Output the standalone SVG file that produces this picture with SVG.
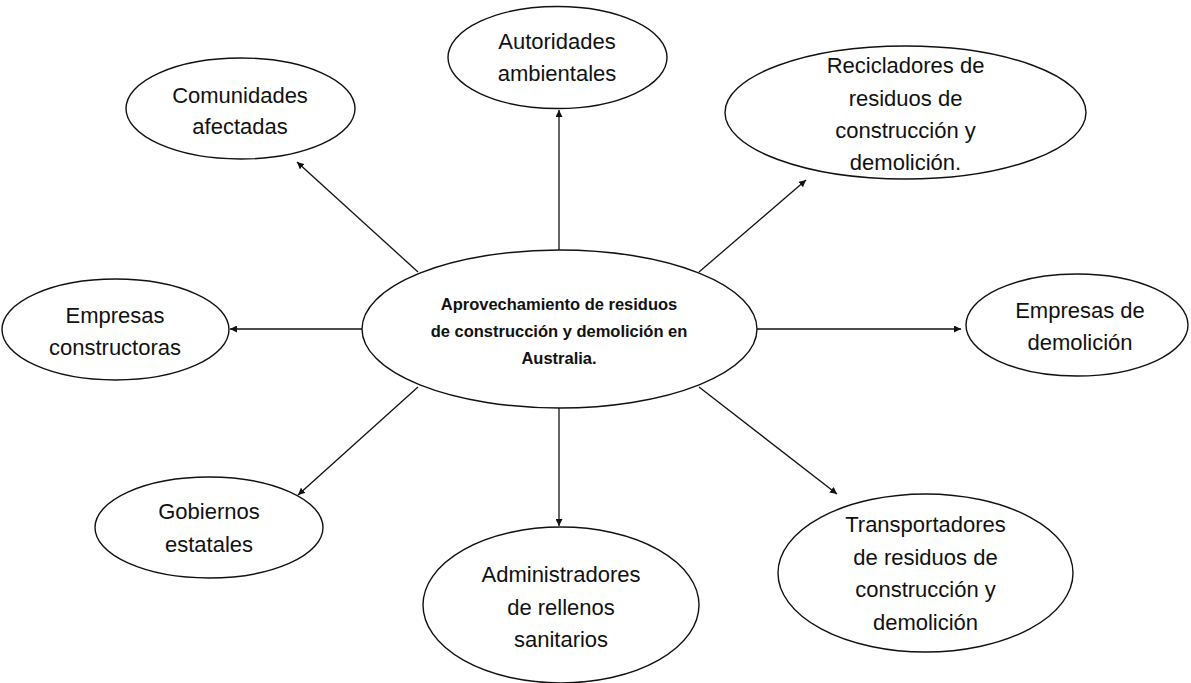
<svg xmlns="http://www.w3.org/2000/svg" width="1191" height="683" viewBox="0 0 1191 683">
<defs>
<marker id="ah" viewBox="0 0 10 10" refX="10" refY="5" markerWidth="7" markerHeight="7" markerUnits="userSpaceOnUse" orient="auto">
<path d="M0,0 L10,5 L0,10 z" fill="#111"/>
</marker>
<style>
.n ellipse{fill:#fff;stroke:#111;stroke-width:1.4}
.t{font-family:"Liberation Sans",Arial,sans-serif;font-size:22px;fill:#111;text-anchor:middle}
.c{font-family:"Liberation Sans",Arial,sans-serif;font-size:16.5px;font-weight:bold;fill:#111;text-anchor:middle}
.e line{stroke:#111;stroke-width:1.3;marker-end:url(#ah)}
</style>
</defs>
<rect width="1191" height="683" fill="#fff"/>
<g id="connectors" class="e">
<line x1="559" y1="250" x2="559" y2="110"/>
<line x1="418" y1="272" x2="297" y2="162"/>
<line x1="699" y1="272" x2="806" y2="180"/>
<line x1="362" y1="329" x2="230" y2="329"/>
<line x1="757" y1="329" x2="961" y2="329"/>
<line x1="418" y1="387" x2="298" y2="495"/>
<line x1="559" y1="408" x2="559" y2="526"/>
<line x1="699" y1="387" x2="837" y2="494"/>
</g>
<g id="center" class="n">
<ellipse cx="559.5" cy="329" rx="197.5" ry="79"/>
<text class="c" x="559" y="310">Aprovechamiento de residuos</text>
<text class="c" x="559" y="337">de construcción y demolición en</text>
<text class="c" x="559" y="364">Australia.</text>
</g>
<g id="comunidades" class="n">
<ellipse cx="240.5" cy="108.5" rx="114.5" ry="50.5"/>
<text class="t" x="240" y="103">Comunidades</text>
<text class="t" x="240" y="134">afectadas</text>
</g>
<g id="autoridades" class="n">
<ellipse cx="557.5" cy="57.5" rx="109.5" ry="51"/>
<text class="t" x="557" y="49">Autoridades</text>
<text class="t" x="557" y="81">ambientales</text>
</g>
<g id="recicladores" class="n">
<ellipse cx="905.5" cy="112.5" rx="180.5" ry="66.5"/>
<text class="t" x="905.5" y="73">Recicladores de</text>
<text class="t" x="905.5" y="106">residuos de</text>
<text class="t" x="905.5" y="138">construcción y</text>
<text class="t" x="905.5" y="170">demolición.</text>
</g>
<g id="constructoras" class="n">
<ellipse cx="115.5" cy="329.5" rx="113.5" ry="50.5"/>
<text class="t" x="115" y="323">Empresas</text>
<text class="t" x="115" y="355">constructoras</text>
</g>
<g id="demolicion" class="n">
<ellipse cx="1077" cy="325" rx="111" ry="51"/>
<text class="t" x="1080" y="318">Empresas de</text>
<text class="t" x="1080" y="350">demolición</text>
</g>
<g id="gobiernos" class="n">
<ellipse cx="209" cy="527.5" rx="114" ry="50.5"/>
<text class="t" x="209" y="519">Gobiernos</text>
<text class="t" x="209" y="552">estatales</text>
</g>
<g id="administradores" class="n">
<ellipse cx="561" cy="605" rx="138" ry="78"/>
<text class="t" x="561" y="582">Administradores</text>
<text class="t" x="561" y="615">de rellenos</text>
<text class="t" x="561" y="647">sanitarios</text>
</g>
<g id="transportadores" class="n">
<ellipse cx="925.5" cy="573" rx="147.5" ry="79"/>
<text class="t" x="925.5" y="532">Transportadores</text>
<text class="t" x="925.5" y="565">de residuos de</text>
<text class="t" x="925.5" y="597">construcción y</text>
<text class="t" x="925.5" y="630">demolición</text>
</g>
</svg>
